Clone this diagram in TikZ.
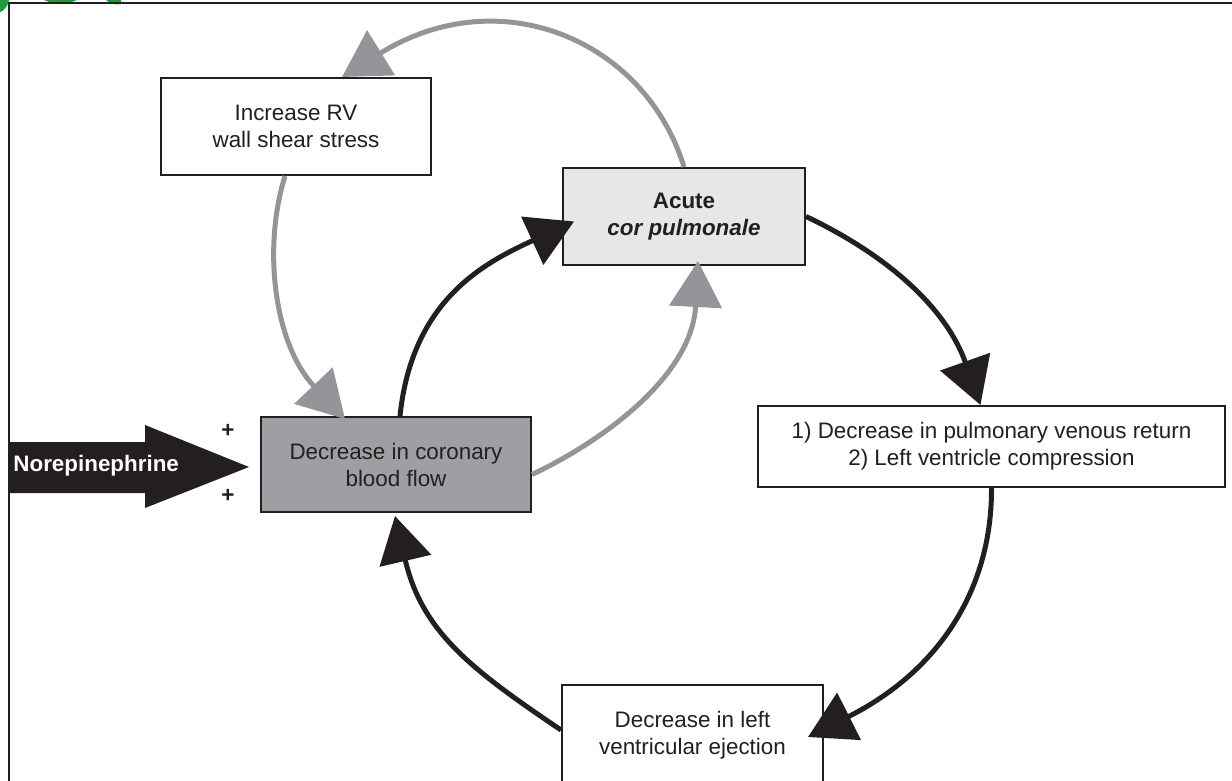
\documentclass[tikz,border=0pt]{standalone}
\usepackage{fontspec}
\setmainfont{Liberation Sans}
\usetikzlibrary{arrows.meta,calc}
\definecolor{ink}{HTML}{231F20}
\definecolor{arrgray}{HTML}{939598}
\definecolor{boxlight}{HTML}{E6E7E8}
\definecolor{boxdark}{HTML}{9D9FA2}
\definecolor{leaf}{HTML}{1E9A3C}
\begin{document}
\begin{tikzpicture}[x=0.5pt,y=-0.5pt,
  box/.style={draw=ink,line width=1pt,rectangle,inner sep=0pt,align=center,text=ink,
    font=\fontsize{11.2}{13.5}\selectfont},
  blackarc/.style={draw=ink,line width=2.5pt,-{Triangle[length=23pt,width=26pt]}},
  grayarc/.style={draw=arrgray,line width=2.5pt,-{Triangle[length=23pt,width=26pt]}},
  plus/.style={text=ink,font=\bfseries\fontsize{11.2}{13.5}\selectfont,inner sep=0pt}]
\useasboundingbox (0,0) rectangle (1232,781);
\clip (0,0) rectangle (1232,781);
% green remnants
\fill[leaf] (0,0) -- (0,12) .. controls (4,11) and (8,6) .. (9,0) -- cycle;
\fill[leaf] (44,0) .. controls (55,5) and (66,5) .. (77,0) -- cycle;
\fill[leaf] (106,0) .. controls (110,4) and (116,5) .. (121,4) -- (121,0) -- cycle;
% frame
\draw[ink,line width=1pt] (8.5,3.5) rectangle (1260,800);
% boxes
\node[box,minimum width=135pt,minimum height=48.5pt,fill=white] (rv) at (296,126.5)
  {Increase RV\\wall shear stress};
\node[box,minimum width=121pt,minimum height=48.5pt,fill=boxlight] (acute) at (684,216.5)
  {\bfseries Acute\\\bfseries\itshape cor pulmonale};
\node[box,minimum width=135pt,minimum height=47.5pt,fill=boxdark] (cor) at (396,464.5)
  {Decrease in coronary\\blood flow};
\node[box,minimum width=233.5pt,minimum height=40.5pt,fill=white] (ret) at (991.5,446.5)
  {1) Decrease in pulmonary venous return\\2) Left ventricle compression};
\node[box,minimum width=130.5pt,minimum height=50pt,fill=white] (lve) at (692.5,735)
  {Decrease in left\\ventricular ejection};
% norepinephrine arrow
\fill[ink] (8,442) -- (145,442) -- (145,425) -- (249,467) -- (145,508) -- (145,493) -- (8,493) -- cycle;
\node[anchor=west,text=white,font=\bfseries\fontsize{11.2}{13.5}\selectfont,inner sep=0pt] (nor) at (13,466) {Norepinephrine};
\node[plus] (plusa) at (228,431) {+};
\node[plus] (plusb) at (228,496) {+};
% connectors
\draw[grayarc] (acute.north) .. controls (645,40) and (500,-21) .. ($(rv.north)+(46,0)$);
\draw[grayarc] ($(rv.south)+(-11,0)$) .. controls (262,250) and (275,345) .. ($(cor.north)+(-51,3)$);
\draw[blackarc] ($(cor.north)+(4,0)$) .. controls (412,300) and (484,263) .. ($(acute.west)+(12,5)$);
\draw[grayarc] ($(cor.east)+(0,10)$) .. controls (605,440) and (692,375) .. ($(acute.south)+(14,-5)$);
\draw[blackarc] (acute.east) .. controls (883,253) and (945,305) .. ($(ret.north)+(-11,0)$);
\draw[blackarc] (ret.south) .. controls (992,587) and (941,670) .. ($(lve.east)+(-16,2)$);
\draw[blackarc] ($(lve.west)+(0,-5)$) .. controls (472,670) and (422,632) .. ($(cor.south)+(-1,3)$);
\end{tikzpicture}
\end{document}
